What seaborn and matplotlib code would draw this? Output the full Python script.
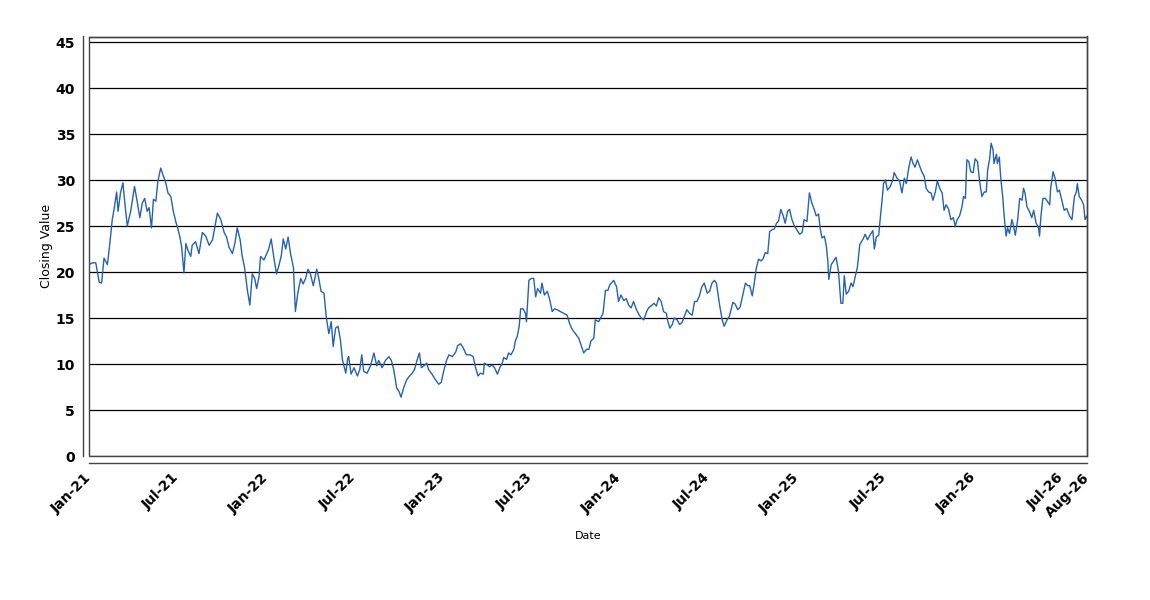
import numpy as np
import pandas as pd
import matplotlib
matplotlib.use("Agg")
import matplotlib.pyplot as plt
import matplotlib.dates as mdates
from matplotlib.patches import Rectangle
import seaborn as sns

# ---------------- data ----------------
start_date = "2021-01-01"
end_date = "2026-08-23"

# observation day offsets from start_date
day_offsets = [
    0, 7, 14, 21, 26, 31, 38, 43, 48, 52,
    57, 60, 65, 70, 74, 79, 86, 94, 100, 105,
    110, 115, 120, 124, 129, 133, 138, 142, 148, 153,
    158, 163, 169, 174, 179, 184, 188, 191, 196, 200,
    204, 210, 213, 220, 227, 234, 241, 248, 255, 265,
    272, 279, 284, 289, 296, 301, 306, 312, 316, 321,
    327, 332, 337, 342, 346, 351, 354, 361,
    367, 371, 376, 382, 387, 392, 397, 401, 406, 411,
    416, 422, 426, 431, 437, 442, 447, 452, 457, 463,
    470, 474, 479, 485, 490, 495, 500, 504, 509, 514,
    519, 523, 530, 534, 536, 541, 547, 554, 559, 563,
    567, 574, 581, 588, 594, 598, 605, 612, 619, 624,
    629, 635, 640, 644, 650, 655, 660, 667, 672, 677,
    682, 686, 691, 697, 701, 708, 715, 722, 727,
    732, 738, 743, 750, 757, 761, 767, 772, 779, 787,
    793, 798, 803, 808, 814, 816, 822, 827, 832, 837,
    843, 848, 853, 856, 862, 866, 871, 877, 880, 884,
    888, 891, 896, 901, 903, 906, 908, 913, 918, 922,
    926, 932, 935, 940, 946, 951, 956, 961, 966, 973,
    980, 987, 992, 997, 1004, 1011, 1018, 1021, 1027, 1032,
    1036, 1042, 1045, 1052, 1061, 1066, 1071, 1075, 1080, 1083,
    1089, 1093, 1098, 1104, 1109, 1114, 1119, 1124, 1130, 1135,
    1140, 1145, 1151, 1155, 1160, 1166, 1171, 1176, 1181, 1186,
    1192, 1194, 1199, 1204, 1208, 1214, 1219, 1224, 1229, 1234,
    1240, 1245, 1250, 1255, 1260, 1265, 1270, 1276, 1281, 1286,
    1291, 1295, 1298, 1302, 1307, 1311, 1317, 1322, 1329, 1334,
    1339, 1344, 1350, 1355, 1360, 1364, 1369, 1373, 1377, 1382,
    1387, 1391, 1396, 1401, 1405, 1410, 1415, 1419, 1423, 1428,
    1433, 1437, 1442, 1446, 1451,
    1456, 1461, 1467, 1472, 1476, 1482, 1487, 1492, 1497, 1501,
    1506, 1509, 1513, 1518, 1522, 1525, 1527, 1532, 1537, 1542,
    1547, 1552, 1556, 1559, 1563, 1568, 1573, 1577, 1582, 1586,
    1591, 1598, 1602, 1607, 1613, 1618, 1621, 1625, 1630, 1633,
    1637, 1640, 1644, 1648, 1654, 1659, 1662, 1668, 1673, 1678,
    1683, 1687, 1692, 1697, 1701, 1705, 1710, 1714, 1719, 1724,
    1728, 1733, 1738, 1742, 1747, 1751, 1756, 1761, 1765, 1769,
    1774, 1779, 1784, 1788, 1792, 1797, 1802, 1805, 1809, 1812,
    1816, 1820, 1825,
    1829, 1834, 1838, 1843, 1848, 1852, 1855, 1859, 1862, 1866,
    1868, 1873, 1875, 1879, 1882, 1886, 1889, 1893, 1896, 1900,
    1905, 1908, 1912, 1917, 1921, 1926, 1929, 1932, 1936, 1941,
    1946, 1950, 1955, 1960, 1962, 1965, 1969, 1974, 1978, 1983,
    1985, 1990, 1994, 1999, 2003, 2008, 2013, 2018, 2024, 2029,
    2034, 2038, 2040, 2044, 2049, 2053, 2056, 2060,
]

closing_values = [
    20.8, 21.0, 21.0, 18.9, 18.8, 21.5, 20.8, 23.1, 25.7, 26.9,
    28.7, 26.6, 28.6, 29.7, 27.5, 25.0, 26.6, 29.3, 27.5, 25.9,
    27.5, 28.0, 26.6, 27.0, 24.8, 27.9, 27.7, 29.8, 31.3, 30.5,
    29.8, 28.6, 28.2, 26.6, 25.5, 24.6, 23.7, 22.8, 19.9, 23.1,
    22.4, 21.7, 22.9, 23.3, 22.0, 24.3, 23.9, 22.9, 23.5, 26.4,
    25.7, 24.3, 23.8, 22.7, 22.0, 23.1, 24.8, 23.5, 21.8, 20.5,
    18.0, 16.4, 19.8, 19.3, 18.2, 19.5, 21.7, 21.3,
    22.0, 22.5, 23.6, 21.4, 19.8, 20.7, 21.8, 23.6, 22.5, 23.8,
    22.0, 20.5, 15.7, 17.7, 19.3, 18.7, 19.3, 20.3, 19.8, 18.5,
    20.3, 19.4, 17.9, 17.7, 15.0, 13.3, 14.6, 11.9, 13.9, 14.1,
    12.6, 10.5, 9.0, 10.6, 10.8, 8.9, 9.6, 8.7, 9.4, 11.0,
    9.2, 9.0, 9.8, 11.2, 9.8, 10.4, 9.6, 10.4, 10.8, 10.4,
    9.4, 7.4, 7.0, 6.4, 7.5, 8.2, 8.6, 9.0, 9.4, 10.4,
    11.2, 9.6, 9.8, 10.1, 9.4, 8.9, 8.3, 7.8, 8.0,
    9.2, 10.4, 11.0, 10.8, 11.3, 12.0, 12.2, 11.8, 11.0, 11.0,
    10.8, 9.6, 8.7, 9.0, 8.9, 10.1, 9.9, 9.7, 9.9, 9.6,
    8.9, 9.6, 10.1, 10.7, 10.5, 11.2, 11.0, 11.6, 12.5, 13.0,
    14.1, 16.0, 16.0, 15.5, 14.6, 17.3, 19.1, 19.3, 19.3, 17.3,
    18.2, 17.7, 18.8, 17.5, 17.9, 17.0, 15.7, 16.0, 15.9, 15.7,
    15.5, 15.3, 14.4, 13.8, 13.3, 12.8, 11.7, 11.2, 11.6, 11.6,
    12.5, 12.8, 14.8, 14.6, 15.5, 18.0, 18.0, 18.6, 18.9, 19.1,
    18.4, 16.8, 17.5, 16.9, 17.1, 16.4, 16.1, 16.8, 15.9, 15.4,
    15.0, 14.8, 15.7, 16.1, 16.3, 16.6, 16.3, 17.2, 16.8, 15.7,
    15.5, 14.8, 13.9, 14.3, 15.0, 14.8, 14.3, 14.5, 15.2, 15.9,
    15.5, 15.3, 16.8, 16.8, 17.4, 18.4, 18.8, 17.7, 17.9, 18.8,
    19.1, 18.8, 17.7, 16.3, 14.8, 14.1, 14.8, 15.2, 16.7, 16.5,
    15.9, 16.2, 17.6, 18.8, 18.5, 18.5, 17.4, 18.7, 20.3, 21.4,
    21.2, 21.4, 22.1, 22.0, 24.4, 24.6, 24.7, 25.3, 25.5, 26.8,
    26.1, 25.3, 26.6, 26.8, 25.7,
    25.0, 24.6, 24.1, 24.3, 25.7, 25.5, 28.6, 27.5, 26.8, 26.1,
    26.3, 24.8, 23.7, 23.9, 22.8, 21.2, 19.2, 20.8, 21.2, 21.6,
    20.1, 16.6, 16.6, 19.6, 17.6, 17.9, 18.8, 18.4, 19.6, 20.5,
    23.0, 23.6, 24.1, 23.5, 24.1, 24.5, 22.5, 23.8, 24.0, 25.7,
    27.8, 29.6, 30.0, 28.9, 29.3, 30.0, 30.8, 30.2, 29.9, 28.6,
    30.2, 29.6, 31.3, 32.5, 31.8, 31.4, 32.2, 31.6, 30.9, 30.4,
    29.1, 28.7, 28.6, 27.8, 28.7, 29.9, 29.1, 28.6, 26.7, 27.3,
    26.9, 25.7, 25.9, 25.0, 25.7, 26.1, 27.1, 28.2, 28.0, 32.2,
    32.0, 30.9, 30.8,
    32.3, 32.0, 30.0, 28.2, 28.7, 28.7, 31.1, 32.3, 34.0, 33.3,
    31.8, 32.8, 31.8, 32.5, 30.2, 28.2, 26.1, 23.9, 24.8, 24.2,
    25.7, 25.1, 24.0, 25.7, 28.0, 27.8, 29.1, 28.6, 27.1, 26.6,
    25.9, 26.7, 25.3, 24.8, 23.9, 26.1, 28.0, 28.0, 27.7, 27.3,
    29.1, 30.9, 30.2, 28.7, 28.9, 27.8, 26.7, 26.9, 26.1, 25.7,
    28.2, 28.7, 29.6, 28.2, 27.8, 27.3, 25.7, 26.1,
]

y_ticks = [0, 5, 10, 15, 20, 25, 30, 35, 40, 45]
x_tick_dates = ["2021-01-01", "2021-07-01", "2022-01-01", "2022-07-01",
                "2023-01-01", "2023-07-01", "2024-01-01", "2024-07-01",
                "2025-01-01", "2025-07-01", "2026-01-01", "2026-07-01",
                end_date]

x_label = "Date"
y_label = "Closing Value"

# ---------------- build table ----------------
df = pd.DataFrame({
    "Date": pd.Timestamp(start_date) + pd.to_timedelta(day_offsets, unit="D"),
    "Closing Value": closing_values,
})

# ---------------- plot ----------------
sns.set_style("white")
plt.rcParams["font.family"] = ["DejaVu Sans"]
plt.rcParams["text.color"] = "black"
plt.rcParams["axes.labelcolor"] = "black"
plt.rcParams["xtick.color"] = "black"
plt.rcParams["ytick.color"] = "black"

W, H = 1150, 600
fig = plt.figure(figsize=(W / 100, H / 100), dpi=100)
fig.patch.set_facecolor("white")
ax = fig.add_axes([89 / W, (H - 456) / H, (1087 - 89) / W, (456 - 36.5) / H])

sns.lineplot(data=df, x="Date", y="Closing Value", ax=ax,
             color="#2462b3", linewidth=1.0, estimator=None)

ax.set_ylim(0, 45.6)
ax.set_xlim(pd.Timestamp(start_date), pd.Timestamp(end_date))
ax.set_yticks(y_ticks)
ax.set_xticks(pd.to_datetime(x_tick_dates))
ax.xaxis.set_major_formatter(mdates.DateFormatter("%b-%y"))

ax.yaxis.grid(True, color="black", linewidth=0.9)
ax.xaxis.grid(False)
ax.set_axisbelow(True)

edge = "#444444"
for side in ["top", "right", "left", "bottom"]:
    ax.spines[side].set_visible(True)
    ax.spines[side].set_color(edge)
    ax.spines[side].set_linewidth(1.0)
ax.spines["left"].set_position(("outward", 4))
ax.spines["bottom"].set_position(("outward", 5))
ax.add_patch(Rectangle((0, 0), 1, 1, transform=ax.transAxes, fill=False,
                       edgecolor=edge, linewidth=1.0, clip_on=False, zorder=5))

ax.tick_params(axis="y", direction="out", length=4, width=0.8,
               color=edge, labelcolor="black", labelsize=10, pad=2)
ax.tick_params(axis="x", direction="out", length=4, width=0.8,
               color=edge, labelcolor="black", labelsize=10, pad=5)
for lab in ax.get_yticklabels():
    lab.set_fontweight("bold")
for lab in ax.get_xticklabels():
    lab.set_fontweight("bold")
    lab.set_rotation(45)
    lab.set_ha("right")
    lab.set_va("center")
    lab.set_rotation_mode("anchor")

ax.set_xlabel(x_label, fontsize=8, labelpad=8, color="black")
ax.set_ylabel(y_label, fontsize=9, labelpad=2, color="black")

fig.savefig("out.png", dpi=100, facecolor="white")
